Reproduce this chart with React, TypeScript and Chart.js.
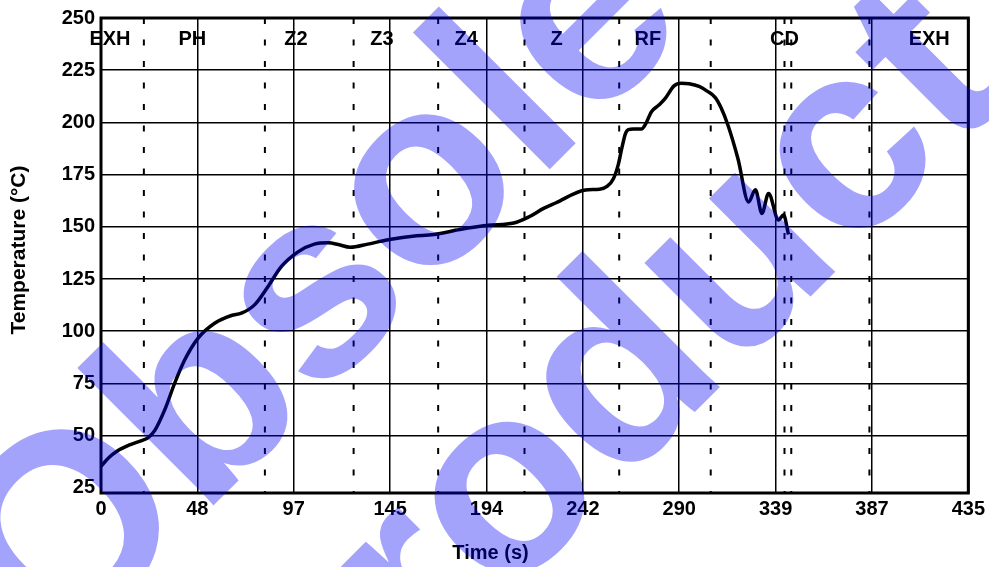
import React, { useEffect, useRef } from 'react';
import { Chart, registerables } from 'chart.js';

Chart.register(...registerables);

const FONT = '"Liberation Sans", Arial, Helvetica, sans-serif';

const timeSeconds = [
  0, 4, 8, 14, 20, 23.5, 27, 32, 37, 42, 48.7, 57, 65.4, 70.4, 77, 83.7, 90.4, 98.8, 107, 114,
  119, 125, 133.8, 140, 146.3, 156.3, 167, 180, 194, 207, 214.7, 222, 228, 243, 250, 254, 257,
  259.5, 261.3, 263, 264.5, 267, 271, 273.3, 276, 279.8, 283, 287.4, 291, 295, 300, 304, 308,
  311, 314.5, 319.5, 324.8, 328.2, 331.5, 334.8, 339.8, 342.3, 344.8,
];
const temperatureC = [
  35.3, 39.5, 42.5, 45.4, 47.5, 48.9, 52.5, 62.4, 75.2, 86.3, 96.7, 103.8, 107.5, 108.6, 112.6,
  121.3, 130.9, 138, 141.7, 142.3, 141.5, 140.2, 141.7, 143, 144.2, 145.5, 146.3, 148.7, 150.7,
  151.8, 154.8, 158.8, 161.4, 167.6, 168, 169.5, 173, 180, 188, 194.5, 196.5, 196.8, 196.8,
  199.5, 205, 208.3, 211.5, 217.5, 218.8, 218.5, 217.2, 215, 212, 207, 198.5, 182.5, 161.9,
  167.8, 156.4, 166, 153.2, 155.8, 146.3,
];

const xTickLabels = ['0', '48', '97', '145', '194', '242', '290', '339', '387', '435'];
const xMax = 435;
const yTickValues = [25, 50, 75, 100, 125, 150, 175, 200, 225, 250];
const yMin = 22.5;
const yMax = 250;

const zoneBoundaries = [21.5, 82.2, 126.7, 169.1, 212.4, 259.9, 305.8, 342.8, 346.2, 385.4];
const zoneNames = ['EXH', 'PH', 'Z2', 'Z3', 'Z4', 'Z', 'RF', 'CD', 'EXH'];
const zoneLabelX = [4.5, 45.8, 97.8, 140.9, 183.2, 228.5, 274.3, 342.8, 415.4];
const zoneLabelY = 239.5;

const xTitle = 'Time (s)';
const yTitle = 'Temperature (°C)';
const watermarkLines = ['Obsolete', 'Product'];

const overlayPlugin = {
  id: 'overlay',
  beforeDatasetsDraw(chart: any) {
    const { ctx, chartArea: a, scales } = chart;
    ctx.save();
    ctx.strokeStyle = '#000';
    ctx.lineWidth = 2;
    ctx.setLineDash([6, 15.5]);
    zoneBoundaries.forEach((v) => {
      const px = scales.x.getPixelForValue(v);
      ctx.beginPath();
      ctx.moveTo(px, a.top);
      ctx.lineTo(px, a.bottom);
      ctx.stroke();
    });
    ctx.restore();
  },
  afterDraw(chart: any) {
    const { ctx, chartArea: a, scales } = chart;
    ctx.save();
    // frame
    ctx.strokeStyle = '#000';
    ctx.lineWidth = 3;
    ctx.strokeRect(a.left, a.top, a.right - a.left, a.bottom - a.top);

    // zone labels
    ctx.fillStyle = '#000';
    ctx.font = `bold 20px ${FONT}`;
    ctx.textAlign = 'center';
    ctx.textBaseline = 'middle';
    zoneNames.forEach((name, i) => {
      ctx.fillText(name, scales.x.getPixelForValue(zoneLabelX[i]), scales.y.getPixelForValue(zoneLabelY));
    });

    // axis titles
    ctx.fillText(xTitle, chart.width / 2 - 4, 553);
    ctx.save();
    ctx.font = `bold 21px ${FONT}`;
    ctx.translate(19.5, 250);
    ctx.rotate(-Math.PI / 2);
    ctx.fillText(yTitle, 0, 0);
    ctx.restore();

    // watermark
    ctx.fillStyle = 'rgba(0,0,245,0.36)';
    ctx.font = `bold 267px ${FONT}`;
    ctx.textAlign = 'center';
    ctx.textBaseline = 'alphabetic';
    const centers = [
      [458, 261],
      [659, 448],
    ];
    watermarkLines.forEach((line, i) => {
      ctx.save();
      ctx.translate(centers[i][0], centers[i][1]);
      ctx.rotate(-Math.PI / 4);
      ctx.fillText(line, 0, 0);
      ctx.restore();
    });
    ctx.restore();
  },
};

export default function App() {
  const ref = useRef<HTMLCanvasElement | null>(null);

  useEffect(() => {
    document.body.style.margin = '0';
    const canvas = ref.current;
    if (!canvas) return;
    const chart = new Chart(canvas, {
      type: 'line',
      data: {
        datasets: [
          {
            data: timeSeconds.map((t, i) => ({ x: t, y: temperatureC[i] })),
            borderColor: '#000',
            borderWidth: 3.5,
            pointRadius: 0,
            fill: false,
            cubicInterpolationMode: 'monotone',
          },
        ],
      },
      options: {
        responsive: false,
        animation: false,
        layout: { padding: { top: 17, right: 19, left: 0, bottom: 0 } },
        plugins: { legend: { display: false }, tooltip: { enabled: false } },
        scales: {
          x: {
            type: 'linear',
            min: 0,
            max: xMax,
            afterBuildTicks: (s: any) => {
              s.ticks = xTickLabels.map((_, i) => ({ value: (i * xMax) / (xTickLabels.length - 1) }));
            },
            afterFit: (s: any) => {
              s.height = 74;
            },
            ticks: {
              callback: (_v: any, i: number) => xTickLabels[i],
              font: { family: FONT, size: 20, weight: 'bold' },
              color: '#000',
              padding: 4,
              maxRotation: 0,
              autoSkip: false,
            },
            grid: { color: '#000', lineWidth: 1.5, drawTicks: false },
            border: { display: false },
          },
          y: {
            type: 'linear',
            min: yMin,
            max: yMax,
            afterBuildTicks: (s: any) => {
              s.ticks = yTickValues.map((v) => ({ value: v }));
            },
            afterFit: (s: any) => {
              s.width = 101;
            },
            ticks: {
              font: { family: FONT, size: 20, weight: 'bold' },
              color: '#000',
              padding: 6,
              autoSkip: false,
            },
            grid: {
              color: (c: any) => (c.tick && c.tick.value === yTickValues[0] ? 'rgba(0,0,0,0)' : '#000'),
              lineWidth: 1.5,
              drawTicks: false,
            },
            border: { display: false },
          },
        },
      } as any,
      plugins: [overlayPlugin],
    });
    return () => chart.destroy();
  }, []);

  return (
    <div style={{ width: 989, height: 567 }}>
      <canvas ref={ref} width={989} height={567} style={{ display: 'block' }} />
    </div>
  );
}
